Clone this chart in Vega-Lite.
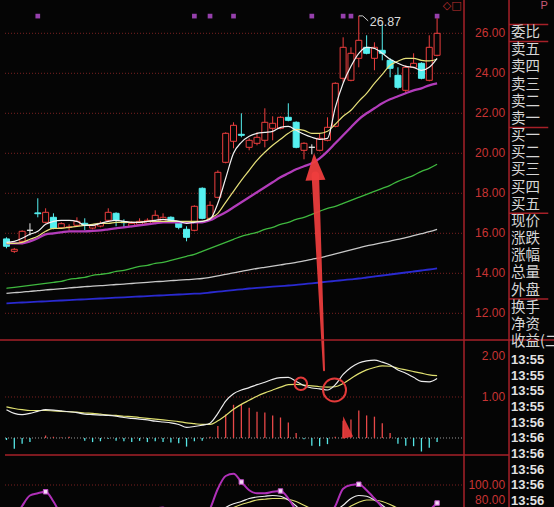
{
  "$schema": "https://vega.github.io/schema/vega-lite/v6.json",
  "width": 554,
  "height": 507,
  "autosize": {"type": "none"},
  "padding": 0,
  "background": "#050505",
  "config": {"view": {"stroke": null}, "axis": {"disable": true}, "legend": {"disable": true}},
  "datasets": {
    "bars": [
      {"i":0,"o":15.72,"h":15.8,"l":15.25,"c":15.35,"m5":15.55,"m10":15.5,"m20":15.5,"m60":13.25,"m120":13.0,"m250":12.5,"dif":0.69,"dea":0.76,"macd":-0.05,"k":55,"d":60,"j":40},
      {"i":1,"o":15.1,"h":15.27,"l":15.02,"c":15.2,"m5":15.6,"m10":15.5,"m20":15.5,"m60":13.3,"m120":13.03,"m250":12.52,"dif":0.6,"dea":0.72,"macd":-0.26,"k":60,"d":60,"j":55},
      {"i":2,"o":15.6,"h":16.15,"l":15.45,"c":16.1,"m5":15.75,"m10":15.55,"m20":15.5,"m60":13.35,"m120":13.06,"m250":12.54,"dif":0.57,"dea":0.69,"macd":-0.14,"k":64,"d":61,"j":72},
      {"i":3,"o":16.15,"h":16.5,"l":15.9,"c":16.15,"m5":15.95,"m10":15.7,"m20":15.6,"m60":13.4,"m120":13.1,"m250":12.56,"dif":0.6,"dea":0.67,"macd":-0.1,"k":68,"d":63,"j":86},
      {"i":4,"o":17.02,"h":17.75,"l":16.8,"c":16.98,"m5":16.1,"m10":15.85,"m20":15.75,"m60":13.45,"m120":13.13,"m250":12.58,"dif":0.65,"dea":0.67,"macd":0.0,"k":69,"d":65,"j":89},
      {"i":5,"o":16.55,"h":17.25,"l":16.5,"c":17.05,"m5":16.45,"m10":16.1,"m20":15.95,"m60":13.5,"m120":13.17,"m250":12.6,"dif":0.69,"dea":0.67,"macd":0.06,"k":70,"d":66,"j":91},
      {"i":6,"o":16.8,"h":17.0,"l":16.2,"c":16.25,"m5":16.6,"m10":16.25,"m20":16.0,"m60":13.55,"m120":13.2,"m250":12.62,"dif":0.68,"dea":0.66,"macd":0.03,"k":66,"d":66,"j":78},
      {"i":7,"o":16.28,"h":16.55,"l":16.22,"c":16.48,"m5":16.65,"m10":16.25,"m20":16.05,"m60":13.6,"m120":13.23,"m250":12.64,"dif":0.66,"dea":0.65,"macd":0.01,"k":62,"d":65,"j":60},
      {"i":8,"o":16.3,"h":16.45,"l":16.15,"c":16.32,"m5":16.65,"m10":16.3,"m20":16.1,"m60":13.7,"m120":13.27,"m250":12.66,"dif":0.64,"dea":0.64,"macd":0.03,"k":58,"d":63,"j":50},
      {"i":9,"o":16.4,"h":16.8,"l":16.35,"c":16.6,"m5":16.6,"m10":16.35,"m20":16.1,"m60":13.75,"m120":13.3,"m250":12.68,"dif":0.62,"dea":0.63,"macd":0.0,"k":56,"d":61,"j":46},
      {"i":10,"o":16.5,"h":16.75,"l":16.15,"c":16.4,"m5":16.4,"m10":16.4,"m20":16.1,"m60":13.8,"m120":13.33,"m250":12.7,"dif":0.58,"dea":0.61,"macd":-0.07,"k":52,"d":58,"j":40},
      {"i":11,"o":16.26,"h":16.45,"l":16.2,"c":16.38,"m5":16.4,"m10":16.45,"m20":16.12,"m60":13.9,"m120":13.36,"m250":12.72,"dif":0.57,"dea":0.6,"macd":-0.1,"k":50,"d":56,"j":38},
      {"i":12,"o":16.36,"h":16.6,"l":16.3,"c":16.5,"m5":16.5,"m10":16.5,"m20":16.15,"m60":13.95,"m120":13.38,"m250":12.74,"dif":0.56,"dea":0.58,"macd":-0.08,"k":52,"d":55,"j":46},
      {"i":13,"o":16.65,"h":17.25,"l":16.6,"c":17.05,"m5":16.6,"m10":16.5,"m20":16.2,"m60":14.0,"m120":13.41,"m250":12.76,"dif":0.55,"dea":0.56,"macd":-0.02,"k":58,"d":56,"j":62},
      {"i":14,"o":17.0,"h":17.05,"l":16.35,"c":16.65,"m5":16.65,"m10":16.55,"m20":16.25,"m60":14.1,"m120":13.44,"m250":12.78,"dif":0.53,"dea":0.55,"macd":-0.07,"k":56,"d":56,"j":56},
      {"i":15,"o":16.58,"h":16.7,"l":16.3,"c":16.53,"m5":16.6,"m10":16.55,"m20":16.3,"m60":14.15,"m120":13.46,"m250":12.8,"dif":0.5,"dea":0.53,"macd":-0.08,"k":52,"d":55,"j":46},
      {"i":16,"o":16.35,"h":16.6,"l":16.3,"c":16.5,"m5":16.55,"m10":16.55,"m20":16.35,"m60":14.25,"m120":13.49,"m250":12.82,"dif":0.48,"dea":0.52,"macd":-0.1,"k":50,"d":53,"j":44},
      {"i":17,"o":16.45,"h":16.75,"l":16.4,"c":16.6,"m5":16.55,"m10":16.55,"m20":16.4,"m60":14.35,"m120":13.52,"m250":12.84,"dif":0.46,"dea":0.5,"macd":-0.07,"k":52,"d":53,"j":50},
      {"i":18,"o":16.5,"h":16.75,"l":16.45,"c":16.65,"m5":16.6,"m10":16.6,"m20":16.45,"m60":14.4,"m120":13.55,"m250":12.86,"dif":0.44,"dea":0.48,"macd":-0.1,"k":55,"d":53,"j":58},
      {"i":19,"o":16.55,"h":17.15,"l":16.5,"c":16.9,"m5":16.65,"m10":16.6,"m20":16.5,"m60":14.5,"m120":13.58,"m250":12.88,"dif":0.41,"dea":0.46,"macd":-0.08,"k":60,"d":55,"j":68},
      {"i":20,"o":16.6,"h":17.0,"l":16.55,"c":16.8,"m5":16.7,"m10":16.6,"m20":16.55,"m60":14.55,"m120":13.6,"m250":12.9,"dif":0.39,"dea":0.44,"macd":-0.1,"k":62,"d":57,"j":70},
      {"i":21,"o":16.8,"h":16.85,"l":16.55,"c":16.62,"m5":16.65,"m10":16.6,"m20":16.55,"m60":14.65,"m120":13.63,"m250":12.92,"dif":0.37,"dea":0.42,"macd":-0.11,"k":58,"d":57,"j":60},
      {"i":22,"o":16.55,"h":16.6,"l":16.2,"c":16.3,"m5":16.6,"m10":16.6,"m20":16.55,"m60":14.75,"m120":13.66,"m250":12.94,"dif":0.33,"dea":0.4,"macd":-0.13,"k":50,"d":55,"j":42},
      {"i":23,"o":16.2,"h":16.35,"l":15.6,"c":15.8,"m5":16.5,"m10":16.6,"m20":16.55,"m60":14.85,"m120":13.68,"m250":12.96,"dif":0.26,"dea":0.37,"macd":-0.21,"k":38,"d":49,"j":18},
      {"i":24,"o":16.15,"h":17.4,"l":16.1,"c":17.35,"m5":16.55,"m10":16.6,"m20":16.55,"m60":14.95,"m120":13.71,"m250":12.98,"dif":0.28,"dea":0.35,"macd":-0.08,"k":45,"d":48,"j":40},
      {"i":25,"o":18.25,"h":18.3,"l":16.7,"c":16.75,"m5":16.6,"m10":16.6,"m20":16.55,"m60":15.1,"m120":13.74,"m250":13.0,"dif":0.31,"dea":0.33,"macd":-0.07,"k":48,"d":48,"j":48},
      {"i":26,"o":16.75,"h":17.6,"l":16.7,"c":17.4,"m5":16.7,"m10":16.75,"m20":16.65,"m60":15.25,"m120":13.8,"m250":13.04,"dif":0.36,"dea":0.33,"macd":0.03,"k":55,"d":50,"j":68},
      {"i":27,"o":17.8,"h":19.15,"l":17.75,"c":19.05,"m5":17.5,"m10":17.0,"m20":16.85,"m60":15.4,"m120":13.87,"m250":13.08,"dif":0.6,"dea":0.42,"macd":0.29,"k":62,"d":54,"j":95},
      {"i":28,"o":19.55,"h":21.05,"l":19.5,"c":21.0,"m5":18.75,"m10":17.55,"m20":17.05,"m60":15.55,"m120":13.95,"m250":13.12,"dif":0.9,"dea":0.55,"macd":0.57,"k":70,"d":64,"j":112},
      {"i":29,"o":20.6,"h":21.55,"l":20.25,"c":21.4,"m5":20.0,"m10":18.1,"m20":17.3,"m60":15.7,"m120":14.02,"m250":13.16,"dif":1.08,"dea":0.7,"macd":0.81,"k":75,"d":70,"j":115},
      {"i":30,"o":20.95,"h":22.0,"l":20.8,"c":20.9,"m5":20.55,"m10":18.65,"m20":17.55,"m60":15.85,"m120":14.1,"m250":13.2,"dif":1.17,"dea":0.82,"macd":0.83,"k":78,"d":74,"j":104},
      {"i":31,"o":20.3,"h":20.75,"l":20.15,"c":20.65,"m5":20.85,"m10":19.15,"m20":17.8,"m60":15.95,"m120":14.17,"m250":13.24,"dif":1.23,"dea":0.92,"macd":0.74,"k":82,"d":77,"j":93},
      {"i":32,"o":20.5,"h":21.05,"l":20.4,"c":20.8,"m5":21.0,"m10":19.65,"m20":18.05,"m60":16.05,"m120":14.24,"m250":13.27,"dif":1.3,"dea":1.02,"macd":0.64,"k":84,"d":80,"j":89},
      {"i":33,"o":20.65,"h":22.25,"l":20.3,"c":21.55,"m5":21.05,"m10":20.05,"m20":18.3,"m60":16.2,"m120":14.3,"m250":13.3,"dif":1.36,"dea":1.1,"macd":0.62,"k":85,"d":81,"j":89},
      {"i":34,"o":21.25,"h":21.85,"l":20.65,"c":21.5,"m5":21.1,"m10":20.4,"m20":18.55,"m60":16.3,"m120":14.36,"m250":13.33,"dif":1.43,"dea":1.17,"macd":0.55,"k":86,"d":82,"j":91},
      {"i":35,"o":21.25,"h":21.85,"l":21.2,"c":21.8,"m5":21.3,"m10":20.7,"m20":18.8,"m60":16.45,"m120":14.42,"m250":13.36,"dif":1.47,"dea":1.24,"macd":0.5,"k":85,"d":82,"j":92},
      {"i":36,"o":21.8,"h":22.5,"l":21.6,"c":21.65,"m5":21.35,"m10":21.0,"m20":19.0,"m60":16.55,"m120":14.48,"m250":13.39,"dif":1.48,"dea":1.3,"macd":0.38,"k":80,"d":81,"j":82},
      {"i":37,"o":21.55,"h":21.6,"l":20.25,"c":20.3,"m5":21.15,"m10":21.2,"m20":19.2,"m60":16.7,"m120":14.55,"m250":13.42,"dif":1.38,"dea":1.31,"macd":0.12,"k":72,"d":78,"j":65},
      {"i":38,"o":20.15,"h":20.55,"l":19.7,"c":20.5,"m5":20.95,"m10":21.15,"m20":19.35,"m60":16.8,"m120":14.62,"m250":13.46,"dif":1.28,"dea":1.29,"macd":-0.03,"k":62,"d":73,"j":45},
      {"i":39,"o":20.3,"h":20.45,"l":19.95,"c":20.3,"m5":20.8,"m10":21.0,"m20":19.5,"m60":16.95,"m120":14.7,"m250":13.5,"dif":1.22,"dea":1.27,"macd":-0.19,"k":55,"d":68,"j":35},
      {"i":40,"o":20.15,"h":21.0,"l":20.1,"c":20.75,"m5":20.7,"m10":21.0,"m20":19.75,"m60":17.1,"m120":14.77,"m250":13.54,"dif":1.2,"dea":1.25,"macd":-0.2,"k":52,"d":64,"j":40},
      {"i":41,"o":20.65,"h":21.8,"l":20.6,"c":21.3,"m5":20.75,"m10":21.1,"m20":20.1,"m60":17.25,"m120":14.87,"m250":13.58,"dif":1.17,"dea":1.24,"macd":-0.15,"k":56,"d":62,"j":55},
      {"i":42,"o":21.35,"h":23.55,"l":21.3,"c":23.5,"m5":22.3,"m10":21.45,"m20":20.5,"m60":17.35,"m120":14.97,"m250":13.62,"dif":1.3,"dea":1.25,"macd":0.03,"k":65,"d":63,"j":72},
      {"i":43,"o":23.75,"h":25.8,"l":23.55,"c":25.3,"m5":23.5,"m10":21.85,"m20":20.9,"m60":17.5,"m120":15.07,"m250":13.66,"dif":1.55,"dea":1.33,"macd":0.42,"k":73,"d":66,"j":95},
      {"i":44,"o":23.65,"h":25.3,"l":23.6,"c":25.0,"m5":24.35,"m10":22.15,"m20":21.3,"m60":17.65,"m120":15.17,"m250":13.7,"dif":1.72,"dea":1.45,"macd":0.45,"k":82,"d":72,"j":100},
      {"i":45,"o":24.75,"h":26.87,"l":24.3,"c":25.65,"m5":25.0,"m10":22.6,"m20":21.7,"m60":17.8,"m120":15.27,"m250":13.74,"dif":1.83,"dea":1.57,"macd":0.67,"k":86,"d":77,"j":101},
      {"i":46,"o":25.3,"h":25.9,"l":24.95,"c":25.0,"m5":25.3,"m10":23.0,"m20":22.0,"m60":17.95,"m120":15.37,"m250":13.79,"dif":1.88,"dea":1.66,"macd":0.55,"k":85,"d":80,"j":93},
      {"i":47,"o":24.75,"h":25.55,"l":24.15,"c":25.3,"m5":25.25,"m10":23.5,"m20":22.25,"m60":18.1,"m120":15.45,"m250":13.84,"dif":1.9,"dea":1.72,"macd":0.52,"k":80,"d":80,"j":82},
      {"i":48,"o":25.15,"h":26.45,"l":24.65,"c":25.0,"m5":25.0,"m10":23.95,"m20":22.5,"m60":18.25,"m120":15.53,"m250":13.89,"dif":1.85,"dea":1.76,"macd":0.36,"k":73,"d":78,"j":70},
      {"i":49,"o":24.65,"h":24.75,"l":23.8,"c":24.25,"m5":24.7,"m10":24.4,"m20":22.7,"m60":18.4,"m120":15.61,"m250":13.94,"dif":1.78,"dea":1.75,"macd":0.12,"k":65,"d":74,"j":55},
      {"i":50,"o":23.9,"h":24.3,"l":23.2,"c":23.3,"m5":24.5,"m10":24.6,"m20":22.85,"m60":18.6,"m120":15.7,"m250":13.99,"dif":1.66,"dea":1.7,"macd":-0.14,"k":58,"d":69,"j":45},
      {"i":51,"o":23.15,"h":24.4,"l":23.0,"c":24.3,"m5":24.35,"m10":24.75,"m20":23.0,"m60":18.75,"m120":15.78,"m250":14.04,"dif":1.58,"dea":1.66,"macd":-0.19,"k":54,"d":65,"j":40},
      {"i":52,"o":24.3,"h":25.0,"l":24.25,"c":24.5,"m5":24.3,"m10":24.75,"m20":23.15,"m60":18.9,"m120":15.88,"m250":14.09,"dif":1.48,"dea":1.62,"macd":-0.2,"k":55,"d":62,"j":45},
      {"i":53,"o":24.5,"h":24.55,"l":23.7,"c":23.75,"m5":24.15,"m10":24.65,"m20":23.25,"m60":19.1,"m120":15.98,"m250":14.14,"dif":1.38,"dea":1.58,"macd":-0.33,"k":58,"d":61,"j":55},
      {"i":54,"o":23.65,"h":25.9,"l":23.6,"c":25.3,"m5":24.3,"m10":24.62,"m20":23.4,"m60":19.25,"m120":16.08,"m250":14.19,"dif":1.37,"dea":1.54,"macd":-0.24,"k":62,"d":62,"j":66},
      {"i":55,"o":24.9,"h":26.75,"l":24.85,"c":26.0,"m5":24.75,"m10":24.7,"m20":23.5,"m60":19.45,"m120":16.2,"m250":14.25,"dif":1.45,"dea":1.52,"macd":-0.1,"k":67,"d":63,"j":76}
    ],
    "pt": [{"v":12},{"v":14},{"v":16},{"v":18},{"v":20},{"v":22},{"v":24},{"v":26}],
    "mt": [{"v":1},{"v":2}],
    "kt": [{"v":80},{"v":100}],
    "lab": [
      {"n":0,"t":"委比"},{"n":1,"t":"卖五"},{"n":2,"t":"卖四"},{"n":3,"t":"卖三"},{"n":4,"t":"卖二"},{"n":5,"t":"卖一"},
      {"n":6,"t":"买一"},{"n":7,"t":"买二"},{"n":8,"t":"买三"},{"n":9,"t":"买四"},{"n":10,"t":"买五"},
      {"n":11,"t":"现价"},{"n":12,"t":"涨跌"},{"n":13,"t":"涨幅"},{"n":14,"t":"总量"},{"n":15,"t":"外盘"},
      {"n":16,"t":"换手"},{"n":17,"t":"净资"},{"n":18,"t":"收益(二)"}
    ],
    "tm": [
      {"n":0,"t":"13:55"},{"n":1,"t":"13:55"},{"n":2,"t":"13:55"},{"n":3,"t":"13:55"},
      {"n":4,"t":"13:56"},{"n":5,"t":"13:56"},{"n":6,"t":"13:56"},{"n":7,"t":"13:56"},{"n":8,"t":"13:56"},{"n":9,"t":"13:56"}
    ],
    "sep": [{"n":-0.5},{"n":0.5},{"n":5.5},{"n":10.5},{"n":15.5}]
  },
  "resolve": {"scale": {"y": "independent", "size": "independent"}},
  "layer": [
    {
      "layer": [
        {
          "data": {"name": "pt"},
          "mark": {"type": "rule", "color": "#7a2020", "strokeDash": [1, 2], "strokeWidth": 1},
          "encoding": {
            "x": {"datum": -0.1875, "type": "quantitative", "scale": {"domain": [-0.1875, 58.4375], "range": [0, 469], "nice": false, "zero": false}},
            "x2": {"datum": 58.4375},
            "y": {"field": "v", "type": "quantitative", "scale": {"domain": [10.665, 27.665], "range": [340, 0], "nice": false, "zero": false}}
          }
        },
        {
          "data": {"name": "pt"},
          "mark": {"type": "text", "align": "right", "baseline": "middle", "font": "Liberation Sans", "fontSize": 12, "color": "#c83434"},
          "encoding": {
            "x": {"datum": 63.69, "type": "quantitative", "scale": {"domain": [-0.1875, 58.4375], "range": [0, 469], "nice": false, "zero": false}},
            "y": {"field": "v", "type": "quantitative", "scale": {"domain": [10.665, 27.665], "range": [340, 0], "nice": false, "zero": false}},
            "text": {"field": "v", "type": "quantitative", "format": ".2f"}
          }
        },
        {
          "data": {"name": "bars"},
          "mark": {"type": "line", "color": "#2a2ad0", "strokeWidth": 1.8, "interpolate": "monotone"},
          "encoding": {
            "x": {"field": "i", "type": "quantitative", "scale": {"domain": [-0.1875, 58.4375], "range": [0, 469], "nice": false, "zero": false}},
            "y": {"field": "m250", "type": "quantitative", "scale": {"domain": [10.665, 27.665], "range": [340, 0], "nice": false, "zero": false}}
          }
        },
        {
          "data": {"name": "bars"},
          "mark": {"type": "line", "color": "#c8c8c8", "strokeWidth": 1.3, "interpolate": "monotone"},
          "encoding": {
            "x": {"field": "i", "type": "quantitative", "scale": {"domain": [-0.1875, 58.4375], "range": [0, 469], "nice": false, "zero": false}},
            "y": {"field": "m120", "type": "quantitative", "scale": {"domain": [10.665, 27.665], "range": [340, 0], "nice": false, "zero": false}}
          }
        },
        {
          "data": {"name": "bars"},
          "mark": {"type": "line", "color": "#3fb83f", "strokeWidth": 1.3, "interpolate": "monotone"},
          "encoding": {
            "x": {"field": "i", "type": "quantitative", "scale": {"domain": [-0.1875, 58.4375], "range": [0, 469], "nice": false, "zero": false}},
            "y": {"field": "m60", "type": "quantitative", "scale": {"domain": [10.665, 27.665], "range": [340, 0], "nice": false, "zero": false}}
          }
        },
        {
          "data": {"name": "bars"},
          "transform": [{"filter": {"field": "i", "oneOf": [4, 24, 26, 29, 39, 43, 44, 55]}}],
          "mark": {"type": "point", "shape": "square", "filled": true, "size": 22, "color": "#9640ac", "opacity": 1},
          "encoding": {
            "x": {"field": "i", "type": "quantitative", "scale": {"domain": [-0.1875, 58.4375], "range": [0, 469], "nice": false, "zero": false}},
            "y": {"datum": 26.86, "type": "quantitative", "scale": {"domain": [10.665, 27.665], "range": [340, 0], "nice": false, "zero": false}}
          }
        },
        {
          "data": {"name": "bars"},
          "mark": {"type": "rule", "strokeWidth": 1},
          "encoding": {
            "x": {"field": "i", "type": "quantitative", "scale": {"domain": [-0.1875, 58.4375], "range": [0, 469], "nice": false, "zero": false}},
            "y": {"field": "l", "type": "quantitative", "scale": {"domain": [10.665, 27.665], "range": [340, 0], "nice": false, "zero": false}},
            "y2": {"field": "h"},
            "stroke": {"condition": [{"test": "datum.c > datum.o", "value": "#ee3f3f"}, {"test": "datum.c < datum.o", "value": "#55f0f0"}], "value": "#e8e8e8"}
          }
        },
        {
          "data": {"name": "bars"},
          "mark": {"type": "bar", "size": 6, "strokeWidth": 1},
          "encoding": {
            "x": {"field": "i", "type": "quantitative", "scale": {"domain": [-0.1875, 58.4375], "range": [0, 469], "nice": false, "zero": false}},
            "y": {"field": "o", "type": "quantitative", "scale": {"domain": [10.665, 27.665], "range": [340, 0], "nice": false, "zero": false}},
            "y2": {"field": "c"},
            "fill": {"condition": {"test": "datum.c < datum.o", "value": "#55f0f0"}, "value": "#050505"},
            "stroke": {"condition": [{"test": "datum.c > datum.o", "value": "#ee3f3f"}, {"test": "datum.c < datum.o", "value": "#55f0f0"}], "value": "#e8e8e8"}
          }
        },
        {
          "data": {"name": "bars"},
          "mark": {"type": "line", "color": "#b23cba", "strokeWidth": 2.3, "interpolate": "monotone"},
          "encoding": {
            "x": {"field": "i", "type": "quantitative", "scale": {"domain": [-0.1875, 58.4375], "range": [0, 469], "nice": false, "zero": false}},
            "y": {"field": "m20", "type": "quantitative", "scale": {"domain": [10.665, 27.665], "range": [340, 0], "nice": false, "zero": false}}
          }
        },
        {
          "data": {"name": "bars"},
          "mark": {"type": "line", "color": "#e6e07a", "strokeWidth": 1.2, "interpolate": "monotone"},
          "encoding": {
            "x": {"field": "i", "type": "quantitative", "scale": {"domain": [-0.1875, 58.4375], "range": [0, 469], "nice": false, "zero": false}},
            "y": {"field": "m10", "type": "quantitative", "scale": {"domain": [10.665, 27.665], "range": [340, 0], "nice": false, "zero": false}}
          }
        },
        {
          "data": {"name": "bars"},
          "mark": {"type": "line", "color": "#f2f2f2", "strokeWidth": 1.2, "interpolate": "monotone"},
          "encoding": {
            "x": {"field": "i", "type": "quantitative", "scale": {"domain": [-0.1875, 58.4375], "range": [0, 469], "nice": false, "zero": false}},
            "y": {"field": "m5", "type": "quantitative", "scale": {"domain": [10.665, 27.665], "range": [340, 0], "nice": false, "zero": false}}
          }
        },
        {
          "data": {"values": [{"i": 45, "p": 26.87}, {"i": 45.5, "p": 26.87}, {"i": 46.2, "p": 26.62}]},
          "mark": {"type": "line", "color": "#cfcfcf", "strokeWidth": 1},
          "encoding": {
            "x": {"field": "i", "type": "quantitative", "scale": {"domain": [-0.1875, 58.4375], "range": [0, 469], "nice": false, "zero": false}},
            "y": {"field": "p", "type": "quantitative", "scale": {"domain": [10.665, 27.665], "range": [340, 0], "nice": false, "zero": false}}
          }
        },
        {
          "data": {"name": "bars"},
          "transform": [{"filter": "datum.i == 45"}],
          "mark": {"type": "text", "align": "left", "baseline": "middle", "dx": 11, "dy": 6, "font": "Liberation Sans", "fontSize": 12.5, "color": "#dcdcdc"},
          "encoding": {
            "x": {"field": "i", "type": "quantitative", "scale": {"domain": [-0.1875, 58.4375], "range": [0, 469], "nice": false, "zero": false}},
            "y": {"field": "h", "type": "quantitative", "scale": {"domain": [10.665, 27.665], "range": [340, 0], "nice": false, "zero": false}},
            "text": {"field": "h", "type": "quantitative", "format": ".2f"}
          }
        },
        {
          "data": {"values": [{"i": 39.45, "p": 18.9}, {"i": 40.56, "p": 9.15}]},
          "mark": {"type": "trail", "color": "#ee3d3d", "opacity": 0.93},
          "encoding": {
            "x": {"field": "i", "type": "quantitative", "scale": {"domain": [-0.1875, 58.4375], "range": [0, 469], "nice": false, "zero": false}},
            "y": {"field": "p", "type": "quantitative", "scale": {"domain": [10.665, 27.665], "range": [340, 0], "nice": false, "zero": false}},
            "size": {"field": "p", "type": "quantitative", "scale": {"domain": [9.15, 18.9], "range": [2, 7.5]}, "legend": null}
          }
        },
        {
          "data": {"values": [{"i": 39.375, "p": 19.33}]},
          "mark": {"type": "point", "shape": "M0,-1L0.74,1L-0.74,1Z", "filled": true, "size": 729, "color": "#ee3d3d", "opacity": 0.95, "angle": -3},
          "encoding": {
            "x": {"field": "i", "type": "quantitative", "scale": {"domain": [-0.1875, 58.4375], "range": [0, 469], "nice": false, "zero": false}},
            "y": {"field": "p", "type": "quantitative", "scale": {"domain": [10.665, 27.665], "range": [340, 0], "nice": false, "zero": false}}
          }
        }
      ]
    },
    {
      "layer": [
        {
          "data": {"name": "mt"},
          "transform": [{"filter": "datum.v == 1"}],
          "mark": {"type": "rule", "color": "#7a2020", "strokeDash": [1, 2], "strokeWidth": 1},
          "encoding": {
            "x": {"datum": -0.1875, "type": "quantitative", "scale": {"domain": [-0.1875, 58.4375], "range": [0, 469], "nice": false, "zero": false}},
            "x2": {"datum": 58.4375},
            "y": {"field": "v", "type": "quantitative", "scale": {"domain": [-0.415, 2.39], "range": [455, 340], "nice": false, "zero": false}}
          }
        },
        {
          "data": {"name": "mt"},
          "transform": [{"filter": "datum.v == 1"}],
          "mark": {"type": "rule", "color": "#9a9a9a", "strokeDash": [1, 2], "strokeWidth": 1},
          "encoding": {
            "x": {"datum": -0.1875, "type": "quantitative", "scale": {"domain": [-0.1875, 58.4375], "range": [0, 469], "nice": false, "zero": false}},
            "x2": {"datum": 58.4375},
            "y": {"datum": 0, "type": "quantitative", "scale": {"domain": [-0.415, 2.39], "range": [455, 340], "nice": false, "zero": false}}
          }
        },
        {
          "data": {"name": "mt"},
          "mark": {"type": "text", "align": "right", "baseline": "middle", "font": "Liberation Sans", "fontSize": 12, "color": "#c83434"},
          "encoding": {
            "x": {"datum": 63.69, "type": "quantitative", "scale": {"domain": [-0.1875, 58.4375], "range": [0, 469], "nice": false, "zero": false}},
            "y": {"field": "v", "type": "quantitative", "scale": {"domain": [-0.415, 2.39], "range": [455, 340], "nice": false, "zero": false}},
            "text": {"field": "v", "type": "quantitative", "format": ".2f"}
          }
        },
        {
          "data": {"name": "bars"},
          "mark": {"type": "rule", "strokeWidth": 1.3},
          "encoding": {
            "x": {"field": "i", "type": "quantitative", "scale": {"domain": [-0.1875, 58.4375], "range": [0, 469], "nice": false, "zero": false}},
            "y": {"field": "macd", "type": "quantitative", "scale": {"domain": [-0.415, 2.39], "range": [455, 340], "nice": false, "zero": false}},
            "y2": {"datum": 0},
            "stroke": {"condition": {"test": "datum.macd > 0", "value": "#e84848"}, "value": "#55e6e6"}
          }
        },
        {
          "data": {"name": "bars"},
          "mark": {"type": "line", "color": "#e0e070", "strokeWidth": 1.2, "interpolate": "monotone"},
          "encoding": {
            "x": {"field": "i", "type": "quantitative", "scale": {"domain": [-0.1875, 58.4375], "range": [0, 469], "nice": false, "zero": false}},
            "y": {"field": "dea", "type": "quantitative", "scale": {"domain": [-0.415, 2.39], "range": [455, 340], "nice": false, "zero": false}}
          }
        },
        {
          "data": {"name": "bars"},
          "mark": {"type": "line", "color": "#ececec", "strokeWidth": 1.2, "interpolate": "monotone"},
          "encoding": {
            "x": {"field": "i", "type": "quantitative", "scale": {"domain": [-0.1875, 58.4375], "range": [0, 469], "nice": false, "zero": false}},
            "y": {"field": "dif", "type": "quantitative", "scale": {"domain": [-0.415, 2.39], "range": [455, 340], "nice": false, "zero": false}}
          }
        },
        {
          "data": {"values": [{"i": 37.6, "v": 1.32}]},
          "mark": {"type": "point", "shape": "circle", "filled": false, "size": 156, "strokeWidth": 2, "color": "#e23a3a", "opacity": 1},
          "encoding": {
            "x": {"field": "i", "type": "quantitative", "scale": {"domain": [-0.1875, 58.4375], "range": [0, 469], "nice": false, "zero": false}},
            "y": {"field": "v", "type": "quantitative", "scale": {"domain": [-0.415, 2.39], "range": [455, 340], "nice": false, "zero": false}}
          }
        },
        {
          "data": {"values": [{"i": 41.9, "v": 1.17}]},
          "mark": {"type": "point", "shape": "circle", "filled": false, "size": 529, "strokeWidth": 2, "color": "#e23a3a", "opacity": 1},
          "encoding": {
            "x": {"field": "i", "type": "quantitative", "scale": {"domain": [-0.1875, 58.4375], "range": [0, 469], "nice": false, "zero": false}},
            "y": {"field": "v", "type": "quantitative", "scale": {"domain": [-0.415, 2.39], "range": [455, 340], "nice": false, "zero": false}}
          }
        },
        {
          "data": {"values": [{"i": 43.3, "v": 0.27}]},
          "mark": {"type": "point", "shape": "M0,-1L0.5,1L-0.5,1Z", "filled": true, "size": 480, "color": "#ee3d3d", "opacity": 0.9, "angle": -12},
          "encoding": {
            "x": {"field": "i", "type": "quantitative", "scale": {"domain": [-0.1875, 58.4375], "range": [0, 469], "nice": false, "zero": false}},
            "y": {"field": "v", "type": "quantitative", "scale": {"domain": [-0.415, 2.39], "range": [455, 340], "nice": false, "zero": false}}
          }
        },
        {
          "data": {"name": "mt"},
          "transform": [{"filter": "datum.v == 2"}],
          "mark": {"type": "rule", "color": "#a62028", "strokeWidth": 1.5},
          "encoding": {
            "y": {"datum": 2.39, "type": "quantitative", "scale": {"domain": [-0.415, 2.39], "range": [455, 340], "nice": false, "zero": false}}
          }
        },
        {
          "data": {"name": "mt"},
          "transform": [{"filter": "datum.v == 2"}],
          "mark": {"type": "rule", "color": "#a62028", "strokeWidth": 1.5},
          "encoding": {
            "x": {"datum": -0.1875, "type": "quantitative", "scale": {"domain": [-0.1875, 58.4375], "range": [0, 469], "nice": false, "zero": false}},
            "x2": {"datum": 64.1875},
            "y": {"datum": -0.415, "type": "quantitative", "scale": {"domain": [-0.415, 2.39], "range": [455, 340], "nice": false, "zero": false}}
          }
        }
      ]
    },
    {
      "layer": [
        {
          "data": {"name": "kt"},
          "transform": [{"filter": "datum.v == 100"}],
          "mark": {"type": "rule", "color": "#7a2020", "strokeDash": [1, 2], "strokeWidth": 1},
          "encoding": {
            "x": {"datum": -0.1875, "type": "quantitative", "scale": {"domain": [-0.1875, 58.4375], "range": [0, 469], "nice": false, "zero": false}},
            "x2": {"datum": 58.4375},
            "y": {"field": "v", "type": "quantitative", "scale": {"domain": [70.67, 140], "range": [507, 455], "nice": false, "zero": false}}
          }
        },
        {
          "data": {"name": "kt"},
          "mark": {"type": "text", "align": "right", "baseline": "middle", "font": "Liberation Sans", "fontSize": 12, "color": "#c83434"},
          "encoding": {
            "x": {"datum": 63.69, "type": "quantitative", "scale": {"domain": [-0.1875, 58.4375], "range": [0, 469], "nice": false, "zero": false}},
            "y": {"field": "v", "type": "quantitative", "scale": {"domain": [70.67, 140], "range": [507, 455], "nice": false, "zero": false}},
            "text": {"field": "v", "type": "quantitative", "format": ".2f"}
          }
        },
        {
          "data": {"name": "bars"},
          "mark": {"type": "line", "color": "#e0e070", "strokeWidth": 1.2, "interpolate": "monotone"},
          "encoding": {
            "x": {"field": "i", "type": "quantitative", "scale": {"domain": [-0.1875, 58.4375], "range": [0, 469], "nice": false, "zero": false}},
            "y": {"field": "d", "type": "quantitative", "scale": {"domain": [70.67, 140], "range": [507, 455], "nice": false, "zero": false}}
          }
        },
        {
          "data": {"name": "bars"},
          "mark": {"type": "line", "color": "#ececec", "strokeWidth": 1.2, "interpolate": "monotone"},
          "encoding": {
            "x": {"field": "i", "type": "quantitative", "scale": {"domain": [-0.1875, 58.4375], "range": [0, 469], "nice": false, "zero": false}},
            "y": {"field": "k", "type": "quantitative", "scale": {"domain": [70.67, 140], "range": [507, 455], "nice": false, "zero": false}}
          }
        },
        {
          "data": {"name": "bars"},
          "mark": {"type": "line", "color": "#b030b8", "strokeWidth": 2, "interpolate": "monotone"},
          "encoding": {
            "x": {"field": "i", "type": "quantitative", "scale": {"domain": [-0.1875, 58.4375], "range": [0, 469], "nice": false, "zero": false}},
            "y": {"field": "j", "type": "quantitative", "scale": {"domain": [70.67, 140], "range": [507, 455], "nice": false, "zero": false}}
          }
        },
        {
          "data": {"name": "bars"},
          "transform": [{"filter": {"field": "i", "oneOf": [5, 30, 35, 45, 55]}}],
          "mark": {"type": "point", "shape": "square", "filled": true, "size": 20, "color": "#f4dcf4", "stroke": "#c050c8", "strokeWidth": 1, "opacity": 1},
          "encoding": {
            "x": {"field": "i", "type": "quantitative", "scale": {"domain": [-0.1875, 58.4375], "range": [0, 469], "nice": false, "zero": false}},
            "y": {"field": "j", "type": "quantitative", "scale": {"domain": [70.67, 140], "range": [507, 455], "nice": false, "zero": false}}
          }
        }
      ]
    },
    {
      "layer": [
        {
          "data": {"name": "mt"},
          "transform": [{"filter": "datum.v == 1"}],
          "mark": {"type": "rule", "color": "#a62028", "strokeWidth": 1.5},
          "encoding": {
            "x": {"datum": 58.4375, "type": "quantitative", "scale": {"domain": [-0.1875, 58.4375], "range": [0, 469], "nice": false, "zero": false}}
          }
        },
        {
          "data": {"name": "mt"},
          "transform": [{"filter": "datum.v == 1"}],
          "mark": {"type": "rule", "color": "#a62028", "strokeWidth": 1.5},
          "encoding": {
            "x": {"datum": 64.1875, "type": "quantitative", "scale": {"domain": [-0.1875, 58.4375], "range": [0, 469], "nice": false, "zero": false}}
          }
        },
        {
          "data": {"name": "sep"},
          "mark": {"type": "rule", "color": "#a62028", "strokeWidth": 1.5},
          "encoding": {
            "x": {"datum": 64.1875, "type": "quantitative", "scale": {"domain": [-0.1875, 58.4375], "range": [0, 469], "nice": false, "zero": false}},
            "x2": {"datum": 69.2},
            "y": {"field": "n", "type": "quantitative", "scale": {"domain": [0, 18], "range": [33, 342], "nice": false, "zero": false}}
          }
        },
        {
          "data": {"name": "lab"},
          "mark": {"type": "text", "align": "left", "baseline": "middle", "font": "Noto Sans CJK SC", "fontSize": 14.5, "color": "#d6d6d6"},
          "encoding": {
            "x": {"datum": 64.44, "type": "quantitative", "scale": {"domain": [-0.1875, 58.4375], "range": [0, 469], "nice": false, "zero": false}},
            "y": {"field": "n", "type": "quantitative", "scale": {"domain": [0, 18], "range": [33, 342], "nice": false, "zero": false}},
            "text": {"field": "t", "type": "nominal"}
          }
        },
        {
          "data": {"values": [{"t": "◇□"}]},
          "mark": {"type": "text", "align": "center", "baseline": "middle", "font": "DejaVu Sans", "fontSize": 11, "color": "#c03030"},
          "encoding": {
            "x": {"datum": 56.94, "type": "quantitative", "scale": {"domain": [-0.1875, 58.4375], "range": [0, 469], "nice": false, "zero": false}},
            "y": {"datum": -1.57, "type": "quantitative", "scale": {"domain": [0, 18], "range": [33, 342], "nice": false, "zero": false}},
            "text": {"field": "t", "type": "nominal"}
          }
        },
        {
          "data": {"values": [{"t": "P"}]},
          "mark": {"type": "text", "align": "left", "baseline": "middle", "font": "Liberation Sans", "fontSize": 11, "color": "#c85a78"},
          "encoding": {
            "x": {"datum": 68.2, "type": "quantitative", "scale": {"domain": [-0.1875, 58.4375], "range": [0, 469], "nice": false, "zero": false}},
            "y": {"datum": -1.6, "type": "quantitative", "scale": {"domain": [0, 18], "range": [33, 342], "nice": false, "zero": false}},
            "text": {"field": "t", "type": "nominal"}
          }
        }
      ]
    },
    {
      "data": {"name": "tm"},
      "mark": {"type": "text", "align": "left", "baseline": "middle", "font": "Liberation Sans", "fontSize": 13, "fontWeight": "bold", "color": "#e2e2e2"},
      "encoding": {
        "x": {"datum": 64.44, "type": "quantitative", "scale": {"domain": [-0.1875, 58.4375], "range": [0, 469], "nice": false, "zero": false}},
        "y": {"field": "n", "type": "quantitative", "scale": {"domain": [0, 9], "range": [360, 501], "nice": false, "zero": false}},
        "text": {"field": "t", "type": "nominal"}
      }
    }
  ]
}
